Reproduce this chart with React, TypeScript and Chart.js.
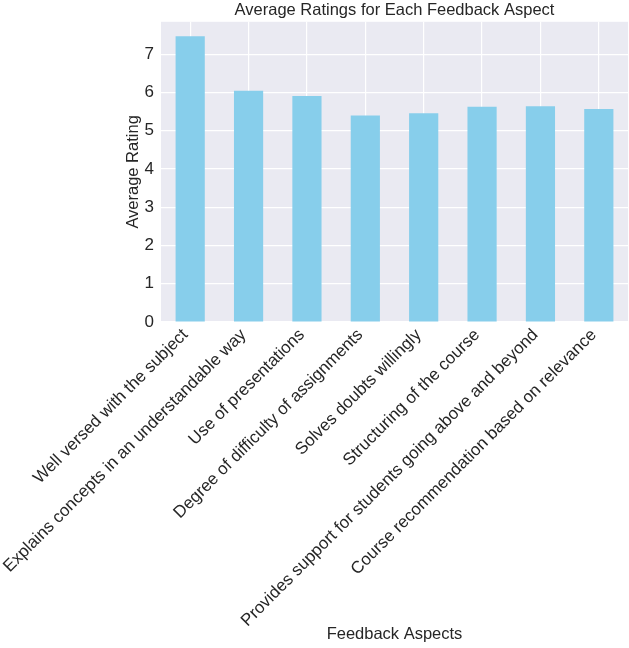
import React, { useEffect, useRef } from "react";
import { Chart, registerables } from "chart.js";

Chart.register(...registerables);

const categories = [
  "Well versed with the subject",
  "Explains concepts in an understandable way",
  "Use of presentations",
  "Degree of difficulty of assignments",
  "Solves doubts willingly",
  "Structuring of the course",
  "Provides support for students going above and beyond",
  "Course recommendation based on relevance",
];
const averageRatings = [7.47, 6.05, 5.91, 5.4, 5.46, 5.63, 5.64, 5.57];
const yTicks = [0, 1, 2, 3, 4, 5, 6, 7];

const FONT = "'Liberation Sans', Arial, sans-serif";
const TEXT = "#262626";
const FS = 16.5;

const bgPlugin = {
  id: "plotBg",
  beforeDraw(chart: any) {
    const { ctx, chartArea } = chart;
    ctx.save();
    ctx.fillStyle = "#EAEAF2";
    ctx.fillRect(chartArea.left, chartArea.top, chartArea.right - chartArea.left, chartArea.bottom - chartArea.top);
    ctx.restore();
  },
};

export default function App() {
  const ref = useRef<HTMLCanvasElement>(null);
  useEffect(() => {
    document.body.style.margin = "0";
    const chart = new Chart(ref.current!, {
      type: "bar",
      data: {
        labels: categories,
        datasets: [
          {
            data: averageRatings,
            backgroundColor: "#87CEEB",
            barPercentage: 0.5,
            categoryPercentage: 1,
          },
        ],
      },
      plugins: [bgPlugin],
      options: {
        responsive: false,
        animation: false,
        layout: { padding: { top: 0, right: 1, bottom: 4, left: 121 } },
        plugins: {
          legend: { display: false },
          tooltip: { enabled: false },
          title: {
            display: true,
            text: "Average Ratings for Each Feedback Aspect",
            fullSize: false,
            color: TEXT,
            font: { family: FONT, size: FS, weight: "normal" },
            padding: { top: 1, bottom: 1 },
          },
        },
        scales: {
          x: {
            grid: { color: "#ffffff", lineWidth: 1.2, offset: false, drawTicks: false },
            border: { display: false },
            ticks: {
              color: TEXT,
              font: { family: FONT, size: 17 },
              maxRotation: 45,
              minRotation: 45,
              padding: 3,
              labelOffset: -5,
            },
            title: {
              display: true,
              text: "Feedback Aspects",
              color: TEXT,
              font: { family: FONT, size: FS },
              padding: { top: 7, bottom: 0 },
            },
          },
          y: {
            min: 0,
            max: 7.85,
            afterBuildTicks(scale: any) {
              scale.ticks = yTicks.map((v) => ({ value: v }));
            },
            afterFit(scale: any) {
              scale.width = 40;
            },
            grid: { color: "#ffffff", lineWidth: 1.2, drawTicks: false },
            border: { display: false },
            ticks: {
              color: TEXT,
              font: { family: FONT, size: 17 },
              padding: 7,
            },
            title: {
              display: true,
              text: "Average Rating",
              color: TEXT,
              font: { family: FONT, size: FS },
              padding: { top: 3, bottom: 0 },
            },
          },
        },
      },
    });
    return () => chart.destroy();
  }, []);
  return <canvas ref={ref} width={629} height={648} />;
}
